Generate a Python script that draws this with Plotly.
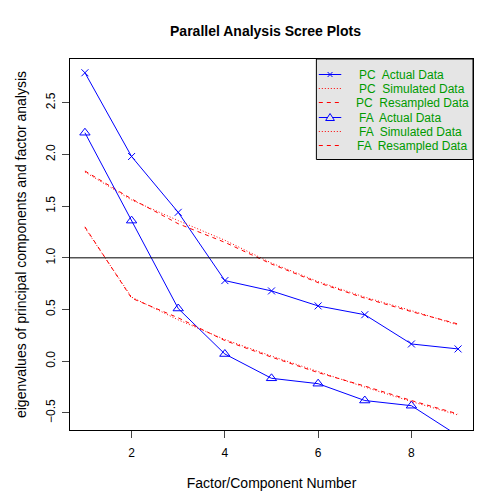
import plotly.graph_objects as go

factors = [1, 2, 3, 4, 5, 6, 7, 8, 9]

pc_actual = [2.79, 1.98, 1.44, 0.78, 0.68, 0.535, 0.45, 0.167, 0.119]
pc_simulated = [1.83, 1.56, 1.36, 1.17, 0.95, 0.77, 0.62, 0.49, 0.35]
pc_resampled = [1.84, 1.57, 1.33, 1.15, 0.94, 0.76, 0.61, 0.48, 0.36]

fa_actual = [2.21, 1.36, 0.51, 0.07, -0.165, -0.217, -0.38, -0.43, -0.72]
fa_simulated = [1.29, 0.62, 0.40, 0.21, 0.05, -0.10, -0.25, -0.39, -0.52]
fa_resampled = [1.30, 0.61, 0.42, 0.20, 0.04, -0.11, -0.24, -0.38, -0.51]

legend_labels = ["PC  Actual Data", "PC  Simulated Data", "PC  Resampled Data",
                 "FA  Actual Data", "FA  Simulated Data", "FA  Resampled Data"]

y_ticks = [-0.5, 0.0, 0.5, 1.0, 1.5, 2.0, 2.5]
x_ticks = [2, 4, 6, 8]

font = "Liberation Sans, Arial, sans-serif"
green = "#009a00"
DOT = "1px,2px"
DASH = "4px,4px"

# plot area in page pixels (page has an 8px body margin)
OFF = 8
L, R, T, B = 60, 473, 59, 430


def px(x):
    return (x - L) / (R - L)


def py(y):
    return (B - y) / (B - T)


fig = go.Figure()

fig.add_trace(go.Scatter(x=factors, y=pc_actual, mode="lines+markers",
                         line=dict(color="blue", width=1),
                         marker=dict(symbol="x-thin-open", size=7, color="blue", line=dict(color="blue", width=1))))
fig.add_trace(go.Scatter(x=factors, y=pc_simulated, mode="lines",
                         line=dict(color="red", width=1, dash=DOT)))
fig.add_trace(go.Scatter(x=factors, y=pc_resampled, mode="lines",
                         line=dict(color="red", width=1, dash=DASH)))
fig.add_trace(go.Scatter(x=factors, y=fa_actual, mode="lines+markers",
                         line=dict(color="blue", width=1),
                         marker=dict(symbol="triangle-up-open", size=9, color="blue", line=dict(color="blue", width=1))))
fig.add_trace(go.Scatter(x=factors, y=fa_simulated, mode="lines",
                         line=dict(color="red", width=1, dash=DOT)))
fig.add_trace(go.Scatter(x=factors, y=fa_resampled, mode="lines",
                         line=dict(color="red", width=1, dash=DASH)))

# hand-drawn legend box (R style, compact rows)
fig.add_shape(type="rect", xref="paper", yref="paper", x0=px(312.5), x1=px(R), y0=py(159.5), y1=py(T),
              fillcolor="#e5e5e5", line=dict(color="black", width=1), layer="above")
styles = [("blue", "solid", "x"), ("red", DOT, None), ("red", DASH, None),
          ("blue", "solid", "tri"), ("red", DOT, None), ("red", DASH, None)]
text_x = [354, 354, 351, 354, 354, 352]
row_y = [74.5, 88.5, 102.5, 117.5, 131.5, 145.5]
for i, (label, (col, dash, mk)) in enumerate(zip(legend_labels, styles)):
    yc = row_y[i]
    fig.add_shape(type="line", xref="paper", yref="paper", x0=px(315), x1=px(338),
                  y0=py(yc), y1=py(yc), line=dict(color=col, width=1, dash=dash), layer="above")
    if mk == "x":
        s = 2.5
        path = (f"M {px(326.5 - s)} {py(yc - s)} L {px(326.5 + s)} {py(yc + s)} "
                f"M {px(326.5 - s)} {py(yc + s)} L {px(326.5 + s)} {py(yc - s)}")
        fig.add_shape(type="path", xref="paper", yref="paper", path=path,
                      line=dict(color=col, width=1), layer="above")
    elif mk == "tri":
        path = f"M {px(322)} {py(yc + 3)} L {px(331)} {py(yc + 3)} L {px(326.5)} {py(yc - 4)} Z"
        fig.add_shape(type="path", xref="paper", yref="paper", path=path,
                      fillcolor="#e5e5e5", line=dict(color=col, width=1), layer="above")
    fig.add_annotation(text=label, xref="paper", yref="paper", x=px(text_x[i]), y=py(yc),
                       xanchor="left", yanchor="middle", showarrow=False,
                       font=dict(size=12, color=green, family=font))

# reference line at eigenvalue 1
fig.add_hline(y=1, line=dict(color="black", width=1))

fig.update_layout(
    width=504, height=504,
    margin=dict(l=L - OFF, r=504 - (R - OFF), t=T - OFF, b=504 - (B - OFF)),
    paper_bgcolor="white", plot_bgcolor="white",
    font=dict(family=font, size=12, color="black"),
    title=dict(text="<b>Parallel Analysis Scree Plots</b>", x=(265.5 - OFF) / 504, xanchor="center",
               y=1 - (31 - OFF) / 504, yanchor="middle", font=dict(size=14)),
    showlegend=False,
)

fig.update_xaxes(range=[0.68, 9.32], tickvals=x_ticks, ticks="outside", ticklen=7,
                 ticklabelstandoff=5,
                 showgrid=False, zeroline=False, showline=True, mirror=True,
                 linecolor="black", linewidth=1,
                 title=dict(text="Factor/Component Number", standoff=18))
fig.update_yaxes(range=[-0.665, 2.923], tickvals=y_ticks, tickformat=".1f", tickangle=-90,
                 ticks="outside", ticklen=7, ticklabelstandoff=2,
                 showgrid=False, zeroline=False, showline=True, mirror=True,
                 linecolor="black", linewidth=1,
                 title=dict(text="eigenvalues of principal components and factor analysis", standoff=14))

fig.write_html("out.html")
